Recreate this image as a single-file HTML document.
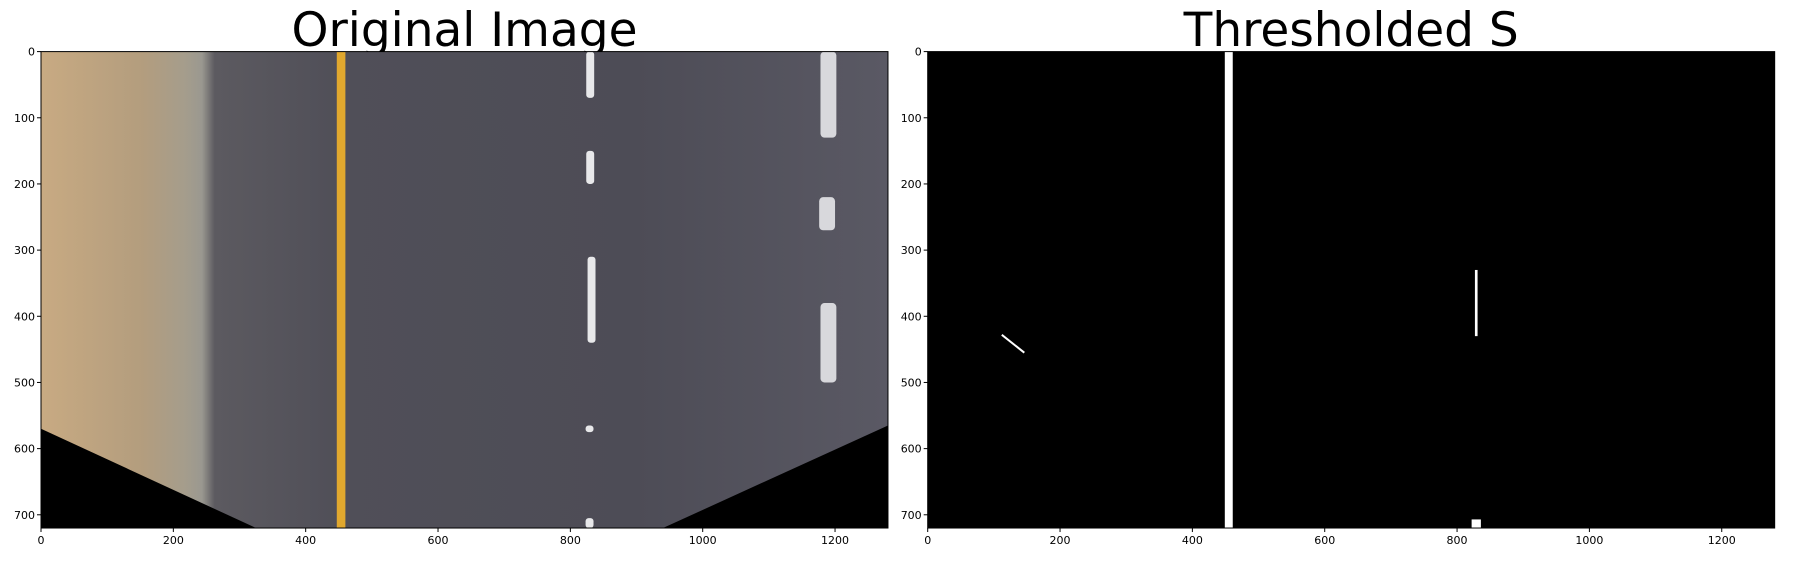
<!DOCTYPE html>
<html><head><meta charset="utf-8">
<style>
html,body{margin:0;padding:0;background:#fff;}
svg{display:block;}
text{font-family:"DejaVu Sans","Liberation Sans",sans-serif;fill:#000;}
</style></head>
<body>
<svg id="fig" width="1802" height="568" viewBox="0 0 1802 568">
<defs>
<linearGradient id="road" x1="0" x2="1" y1="0" y2="0">
<stop offset="0" stop-color="#c8aa82"/>
<stop offset="0.12" stop-color="#b39d7e"/>
<stop offset="0.17" stop-color="#a59d8c"/>
<stop offset="0.19" stop-color="#9a9890"/>
<stop offset="0.205" stop-color="#5c5a60"/>
<stop offset="0.35" stop-color="#504f58"/>
<stop offset="0.7" stop-color="#4d4c56"/>
<stop offset="1" stop-color="#5a5964"/>
</linearGradient>
</defs>
<g id="left"></g>
<g id="right"></g>
</svg>
<script>
const xTicks=[0,200,400,600,800,1000,1200];
const yTicks=[0,100,200,300,400,500,600,700];
const imgW=1280, imgH=720;
// lane dash segments [x, yStart, yEnd, width] in image coords
const dashX=[830,830,832,829,829];
const dashY0=[0,150,310,565,705];
const dashY1=[70,200,440,575,720];
const rightDashX=[1190,1188,1190];
const rightDashY0=[0,220,380];
const rightDashY1=[130,270,500];
// threshold marks
const threshLineX=[455];
const threshSegX=[829];
const threshSegY0=[330];
const threshSegY1=[430];
const NS='http://www.w3.org/2000/svg';
function el(tag,attrs,parent){const e=document.createElementNS(NS,tag);for(const k in attrs)e.setAttribute(k,attrs[k]);parent.appendChild(e);return e;}
function panel(g,x0,title,name){
  const y0=51.6, s=0.6617;
  const X=v=>x0+v*s, Y=v=>y0+v*s;
  const t=el('text',{x:X(640),y:46,'font-size':47,'text-anchor':'middle'},g);
  t.textContent=title;
  
  
  return {X,Y,s,y0};
}
function axes(g,a,name){
  const r=el('rect',{x:a.X(0),y:a.Y(0),width:imgW*a.s,height:imgH*a.s,fill:'none',stroke:'#000','stroke-width':1},g);
  
  
  xTicks.forEach(v=>{
    el('line',{x1:a.X(v),x2:a.X(v),y1:a.Y(720),y2:a.Y(720)+4,stroke:'#000'},g);
    const t=el('text',{x:a.X(v),y:a.Y(720)+16,'font-size':11,'text-anchor':'middle'},g);
    t.textContent=v;
    
    
  });
  yTicks.forEach(v=>{
    el('line',{x1:a.X(0)-4,x2:a.X(0),y1:a.Y(v),y2:a.Y(v),stroke:'#000'},g);
    const t=el('text',{x:a.X(0)-6,y:a.Y(v)+4,'font-size':11,'text-anchor':'end'},g);
    t.textContent=v;
    
    
  });
}
// left
const L=document.getElementById('left');
const a=panel(L,41,'Original Image','original-image');
const bg=el('rect',{x:a.X(0),y:a.Y(0),width:imgW*a.s,height:imgH*a.s,fill:'url(#road)'},L);


const y1=el('rect',{x:a.X(447),y:a.Y(0),width:13*a.s,height:imgH*a.s,fill:'#e1a82e'},L);


for(let i=0;i<dashX.length;i++){
  const d=el('rect',{x:a.X(dashX[i]-6),y:a.Y(dashY0[i]),width:12*a.s,height:(dashY1[i]-dashY0[i])*a.s,rx:3,fill:'#e8e8ea'},L);
  
  
}
for(let i=0;i<rightDashX.length;i++){
  const d=el('rect',{x:a.X(rightDashX[i]-12),y:a.Y(rightDashY0[i]),width:24*a.s,height:(rightDashY1[i]-rightDashY0[i])*a.s,rx:4,fill:'#d8d8dc'},L);
  
  
}
const tl=el('polygon',{points:`${a.X(0)},${a.Y(570)} ${a.X(325)},${a.Y(720)} ${a.X(0)},${a.Y(720)}`,fill:'#000'},L);


const tr=el('polygon',{points:`${a.X(1280)},${a.Y(565)} ${a.X(1280)},${a.Y(720)} ${a.X(940)},${a.Y(720)}`,fill:'#000'},L);


axes(L,a,'left');
// right
const R=document.getElementById('right');
const b=panel(R,927.7,'Thresholded S','thresholded-s');
const bb=el('rect',{x:b.X(0),y:b.Y(0),width:imgW*b.s,height:imgH*b.s,fill:'#000'},R);


threshLineX.forEach(v=>{
  const l=el('rect',{x:b.X(v-6),y:b.Y(0),width:12*b.s,height:imgH*b.s,fill:'#fff'},R);
  
  
});
for(let i=0;i<threshSegX.length;i++){
  const d=el('rect',{x:b.X(threshSegX[i]-2),y:b.Y(threshSegY0[i]),width:4*b.s,height:(threshSegY1[i]-threshSegY0[i])*b.s,fill:'#fff'},R);
  
  
}
const sm=el('line',{x1:b.X(112),y1:b.Y(428),x2:b.X(146),y2:b.Y(455),stroke:'#fff','stroke-width':2},R);


const bt=el('rect',{x:b.X(822),y:b.Y(707),width:14*b.s,height:13*b.s,fill:'#fff'},R);


axes(R,b,'right');
</script>
</body></html>
